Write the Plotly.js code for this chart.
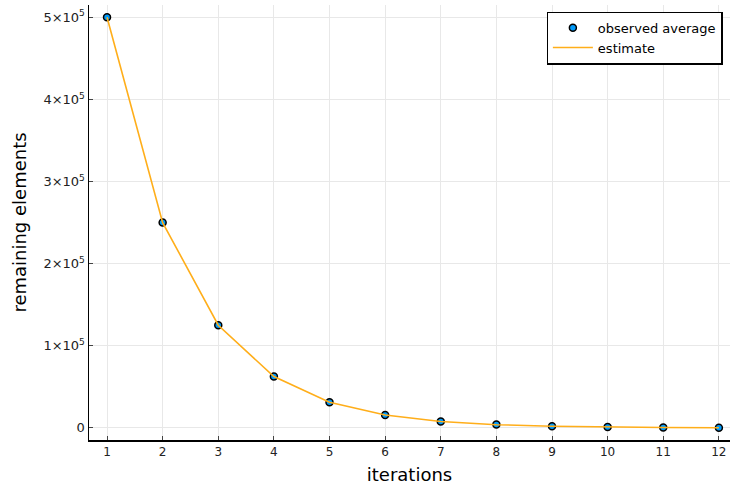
<!DOCTYPE html>
<html><head><meta charset="utf-8">
<script src="https://cdn.plot.ly/plotly-3.0.1.min.js"></script>
<style>html,body{margin:0;padding:0;background:#fff}</style>
</head><body><div id="plot" style="width:730px;height:487px"></div>
<script>
const iterations = [1,2,3,4,5,6,7,8,9,10,11,12];
const observed = [500000,250100,125000,62600,31300,15700,7900,4000,2000,1000,500,250];
const estimate = [500000,250000,125000,62500,31250,15625,7812,3906,1953,977,488,244];
const yTickVals = [0,100000,200000,300000,400000,500000];
const yTickText = ["0","1×10<sup>5</sup>","2×10<sup>5</sup>","3×10<sup>5</sup>","4×10<sup>5</sup>","5×10<sup>5</sup>"];

const font = "DejaVu Sans, sans-serif";
Plotly.newPlot("plot", [
  {x: iterations, y: observed, mode: "markers", name: "observed average", type: "scatter",
   marker: {color: "#009AFA", size: 7, line: {color: "#000", width: 1.5}}},
  {x: iterations, y: estimate, mode: "lines", name: "estimate", type: "scatter",
   line: {color: "#FFAE1A", width: 1.6}}
], {
  width: 730, height: 487,
  margin: {l: 89, r: 0, t: 5, b: 47, pad: 0},
  paper_bgcolor: "#fff", plot_bgcolor: "#fff",
  font: {family: font, color: "#000"},
  showlegend: true,
  legend: {x: 0.714, y: 0.985, xanchor: "left", yanchor: "top", bgcolor: "#fff",
    bordercolor: "#000", borderwidth: 1.2, font: {size: 13, family: font}, tracegroupgap: 0,
    itemwidth: 40},
  xaxis: {range: [0.676, 12.2], tickvals: iterations, ticks: "inside", ticklen: 4, tickcolor: "#444",
    showgrid: true, gridcolor: "#e8e8e8", gridwidth: 1, zeroline: false,
    showline: true, linecolor: "#000", linewidth: 1.5,
    tickfont: {size: 12, family: font, color: "#222"},
    title: {text: "iterations", font: {size: 18, family: font}, standoff: 10}},
  yaxis: {range: [-14749, 514993], tickvals: yTickVals, ticktext: yTickText, ticks: "inside", ticklen: 4, tickcolor: "#444",
    showgrid: true, gridcolor: "#e8e8e8", gridwidth: 1, zeroline: false,
    showline: true, linecolor: "#000", linewidth: 1.5,
    tickfont: {size: 13, family: font, color: "#222"},
    title: {text: "remaining elements", font: {size: 18, family: font}, standoff: 12}}
}, {displayModeBar: false, staticPlot: true});
</script></body></html>
